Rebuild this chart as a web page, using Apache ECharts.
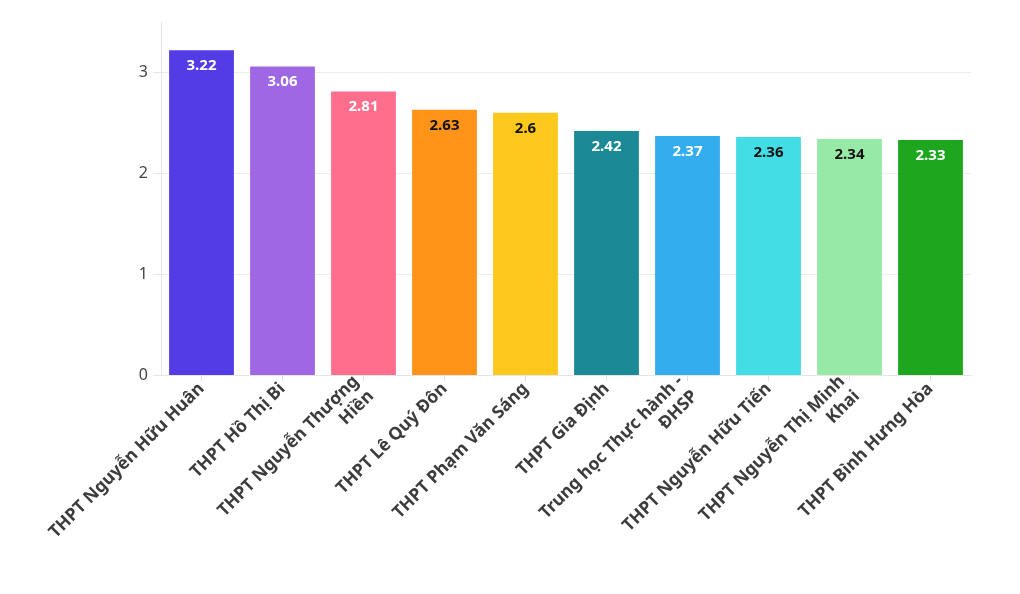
<!DOCTYPE html>
<html>
<head>
<meta charset="utf-8">
<script src="https://cdn.jsdelivr.net/npm/echarts@6/dist/echarts.min.js"></script>
<style>
  html, body { margin: 0; padding: 0; background: #fff; }
  #chart { width: 1020px; height: 594px; }
</style>
</head>
<body>
<div id="chart"></div>
<script>
const schools = [
    'THPT Nguyễn Hữu Huân',
    'THPT Hồ Thị Bi',
    'THPT Nguyễn Thượng\nHiền',
    'THPT Lê Quý Đôn',
    'THPT Phạm Văn Sáng',
    'THPT Gia Định',
    'Trung học Thực hành -\nĐHSP',
    'THPT Nguyễn Hữu Tiến',
    'THPT Nguyễn Thị Minh\nKhai',
    'THPT Bình Hưng Hòa'
];
const scores = [3.22, 3.06, 2.81, 2.63, 2.6, 2.42, 2.37, 2.36, 2.34, 2.33];
const barColors = ['#533ce6', '#a067e5', '#ff6f8d', '#ff9419', '#ffc81c',
                   '#1b8a96', '#33adee', '#42dde5', '#96e9a6', '#1ea61e'];
const labelColors = ['#fff', '#fff', '#fff', '#111', '#111',
                     '#fff', '#fff', '#111', '#111', '#fff'];
const yTicks = [0, 1, 2, 3];

const chart = echarts.init(document.getElementById('chart'), null, { renderer: 'canvas' });

const font = '"Noto Sans", "Open Sans", sans-serif';

chart.setOption({
    animation: false,
    grid: { left: 161, right: 49, top: 22, bottom: 219 },
    xAxis: {
        type: 'category',
        data: schools,
        axisLine: { lineStyle: { color: '#e6e6e6', width: 1 } },
        axisTick: { show: true, alignWithLabel: true, length: 6, lineStyle: { color: '#e0e0e0' } },
        axisLabel: {
            interval: 0,
            rotate: 45,
            margin: 11,
            color: '#3c3c3c',
            fontFamily: font,
            fontWeight: 'bold',
            fontSize: 17.5,
            lineHeight: 21,
            align: 'right'
        }
    },
    yAxis: {
        type: 'value',
        min: 0,
        max: 3.5,
        interval: 1,
        axisLine: { show: true, lineStyle: { color: '#e6e6e6' } },
        axisTick: { show: true, length: 8, lineStyle: { color: '#e6e6e6' } },
        axisLabel: {
            color: '#444',
            fontFamily: font,
            fontSize: 16,
            margin: 13,
            showMaxLabel: false,
            formatter: v => yTicks.includes(v) ? String(v) : ''
        },
        splitLine: { show: true, showMaxLine: false, lineStyle: { color: '#ececec' } }
    },
    series: [{
        type: 'bar',
        barCategoryGap: '20%',
        data: scores.map((v, i) => ({
            value: v,
            itemStyle: { color: barColors[i] },
            label: { color: labelColors[i] }
        })),
        label: {
            show: true,
            position: 'insideTop',
            distance: 8,
            fontFamily: font,
            fontWeight: 'bold',
            fontSize: 15
        }
    }]
});
</script>
</body>
</html>
